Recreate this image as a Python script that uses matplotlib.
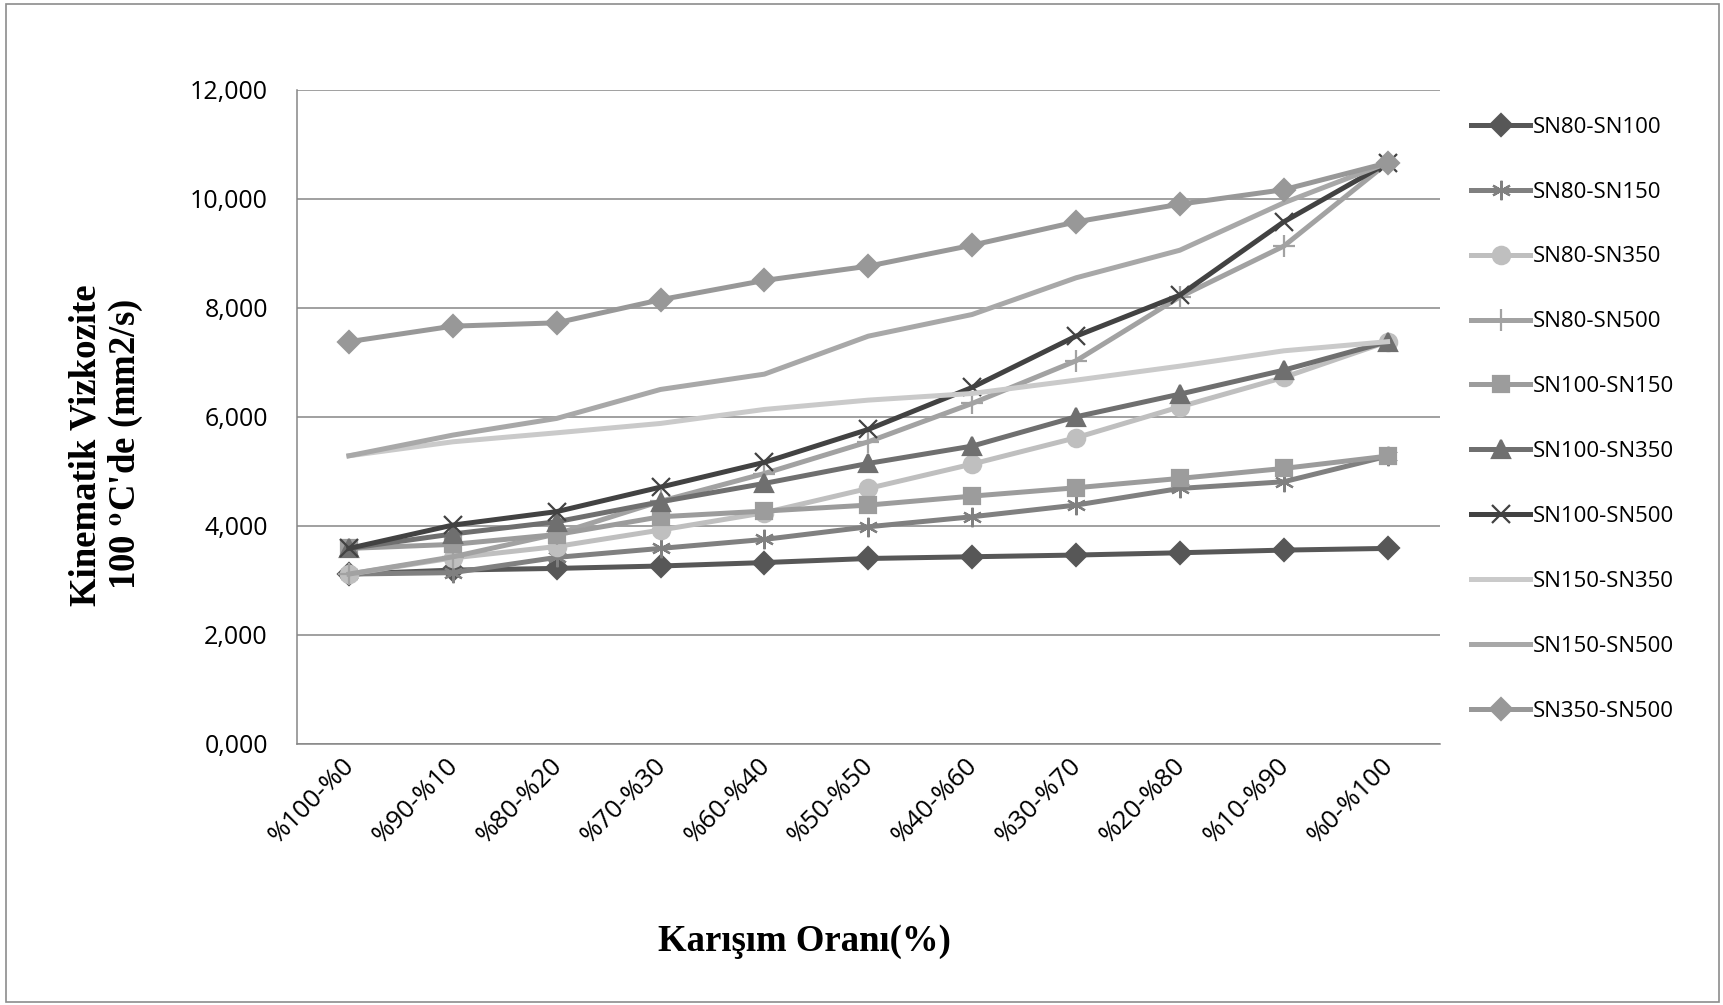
import matplotlib
matplotlib.use("Agg")
import matplotlib.pyplot as plt
import matplotlib.transforms as mtransforms
from matplotlib.patches import Rectangle
from matplotlib.ticker import FuncFormatter, MultipleLocator

# karışım oranları (x ekseni)
oranlar = ['%100-%0', '%90-%10', '%80-%20', '%70-%30', '%60-%40', '%50-%50',
           '%40-%60', '%30-%70', '%20-%80', '%10-%90', '%0-%100']

# 100 °C'de kinematik viskozite, mm2/s
sn80_sn100 = [3.114, 3.187, 3.218, 3.262, 3.325, 3.400, 3.432, 3.463, 3.505, 3.554, 3.585]
sn80_sn150 = [3.114, 3.140, 3.420, 3.585, 3.750, 3.982, 4.166, 4.380, 4.686, 4.808, 5.279]
sn80_sn350 = [3.114, 3.410, 3.620, 3.922, 4.240, 4.686, 5.133, 5.616, 6.184, 6.724, 7.380]
sn80_sn500 = [3.114, 3.430, 3.850, 4.450, 4.960, 5.542, 6.246, 7.028, 8.202, 9.133, 10.662]
sn100_sn150 = [3.585, 3.659, 3.840, 4.166, 4.270, 4.380, 4.545, 4.698, 4.870, 5.053, 5.279]
sn100_sn350 = [3.585, 3.850, 4.074, 4.441, 4.778, 5.145, 5.463, 6.001, 6.417, 6.857, 7.380]
sn100_sn500 = [3.585, 4.013, 4.260, 4.710, 5.165, 5.769, 6.540, 7.481, 8.234, 9.579, 10.662]
sn150_sn350 = [5.285, 5.542, 5.707, 5.879, 6.136, 6.307, 6.429, 6.674, 6.931, 7.212, 7.380]
sn150_sn500 = [5.285, 5.665, 5.971, 6.503, 6.784, 7.481, 7.879, 8.552, 9.059, 9.928, 10.662]
sn350_sn500 = [7.380, 7.665, 7.726, 8.150, 8.504, 8.766, 9.151, 9.579, 9.904, 10.170, 10.662]

seriler = [
    ('SN80-SN100', sn80_sn100),
    ('SN80-SN150', sn80_sn150),
    ('SN80-SN350', sn80_sn350),
    ('SN80-SN500', sn80_sn500),
    ('SN100-SN150', sn100_sn150),
    ('SN100-SN350', sn100_sn350),
    ('SN100-SN500', sn100_sn500),
    ('SN150-SN350', sn150_sn350),
    ('SN150-SN500', sn150_sn500),
    ('SN350-SN500', sn350_sn500),
]

# renk, işaret, işaret boyu
stiller = {
    'SN80-SN100': ('#575757', 'D', 11.5),
    'SN80-SN150': ('#808080', (6, 2, 0), 14),
    'SN80-SN350': ('#bfbfbf', 'o', 12.5),
    'SN80-SN500': ('#a2a2a2', '+', 16),
    'SN100-SN150': ('#9c9c9c', 's', 11.5),
    'SN100-SN350': ('#6f6f6f', '^', 12.5),
    'SN100-SN500': ('#424242', 'x', 13),
    'SN150-SN350': ('#cacaca', None, 0),
    'SN150-SN500': ('#a8a8a8', None, 0),
    'SN350-SN500': ('#989898', 'D', 11.5),
}

plt.rcParams['font.family'] = ['Open Sans', 'DejaVu Sans']
plt.rcParams['mathtext.fontset'] = 'stix'

fig = plt.figure(figsize=(17.24, 10.05), dpi=100)
ax = fig.add_axes([297 / 1724, 1 - 743.7 / 1005, 1142.5 / 1724, 653.7 / 1005])

x = list(range(len(oranlar)))
for ad, degerler in seriler:
    renk, isaret, boy = stiller[ad]
    ax.plot(x, degerler, color=renk, lw=3.6, marker=isaret, markersize=boy,
            markerfacecolor=renk, markeredgecolor=renk, markeredgewidth=1.6,
            label=ad, solid_joinstyle='round')

ax.set_xlim(-0.5, len(oranlar) - 0.5)
ax.set_ylim(0, 12)
ax.yaxis.set_major_locator(MultipleLocator(2))
ax.yaxis.set_major_formatter(FuncFormatter(lambda v, p: f"{v:.3f}".replace('.', ',')))
ax.grid(axis='y', color='#868686', lw=1.1)
ax.set_axisbelow(True)
for k in ['top', 'right']:
    ax.spines[k].set_visible(False)
for k in ['left', 'bottom']:
    ax.spines[k].set_color('#868686')
    ax.spines[k].set_linewidth(1.1)

ax.set_xticks(x)
ax.set_xticklabels(oranlar, rotation=45, ha='right', va='center', rotation_mode='anchor')
ax.tick_params(axis='x', length=0, pad=13, labelsize=18.5)
ax.tick_params(axis='y', length=0, pad=21, labelsize=18)
ofset = mtransforms.ScaledTranslation(2 / 100, 0, fig.dpi_scale_trans)
for t in ax.get_xticklabels():
    t.set_transform(t.get_transform() + ofset)

fig.text(107 / 1724, 1 - 445 / 1005, "Kinematik Vizkozite\n100 $^{\\mathbf{o}}$C'de (mm2/s)",
         rotation=90, ha='center', va='center', fontsize=26.5, fontweight='bold',
         family='Liberation Serif', linespacing=1.1, multialignment='center')
fig.text(804 / 1724, 1 - 941 / 1005, 'Karışım Oranı(%)', ha='center', va='center',
         fontsize=26.5, fontweight='bold', family='Liberation Serif')

ax.legend(loc='upper left', bbox_to_anchor=(1471 / 1724, 1 - 116.7 / 1005),
          bbox_transform=fig.transFigure, frameon=False, fontsize=16,
          handlelength=2.66, handletextpad=0.1, labelspacing=1.975, borderpad=0,
          borderaxespad=0)

fig.patches.append(Rectangle((6 / 1724, 3 / 1005), 1713 / 1724, 998 / 1005,
                             transform=fig.transFigure, fill=False,
                             ec='#8c8c8c', lw=1.2))

fig.savefig('out.png', dpi=100)
